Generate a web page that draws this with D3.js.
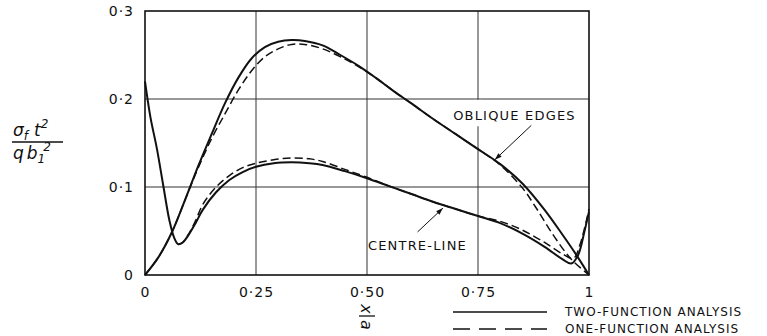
<!DOCTYPE html>
<html>
<head>
<meta charset="utf-8">
<script src="https://cdn.jsdelivr.net/npm/d3@7"></script>
<style>
  body { margin: 0; background: #fff; }
  text { font-family: "DejaVu Sans", sans-serif; fill: #111; }
</style>
</head>
<body>
<script>
// values (x = x/a, y = sigma_f t^2 / q b1^2)
const obliqueTwo = [[0,0],[0.03,0.02],[0.06,0.048],[0.09,0.085],[0.12,0.124],[0.15,0.16],[0.18,0.195],
  [0.21,0.224],[0.24,0.246],[0.27,0.259],[0.3,0.265],[0.33,0.267],[0.36,0.266],[0.4,0.261],[0.44,0.25],
  [0.48,0.238],[0.52,0.224],[0.56,0.209],[0.6,0.195],[0.65,0.177],[0.7,0.16],[0.75,0.143],[0.8,0.126],
  [0.85,0.104],[0.9,0.074],[0.94,0.046],[0.97,0.024],[1,0]];
const obliqueOne = [[0,0],[0.03,0.02],[0.06,0.048],[0.09,0.085],[0.12,0.122],[0.15,0.155],[0.18,0.183],
  [0.21,0.21],[0.24,0.232],[0.27,0.248],[0.3,0.257],[0.33,0.262],[0.36,0.262],[0.4,0.257],[0.44,0.248],
  [0.48,0.237],[0.52,0.224],[0.56,0.209],[0.6,0.195],[0.65,0.177],[0.7,0.16],[0.75,0.143],[0.8,0.125],
  [0.85,0.099],[0.88,0.077],[0.92,0.045],[0.96,0.018],[1,0]];
const centreTwo = [[0,0.22],[0.012,0.18],[0.027,0.143],[0.041,0.102],[0.055,0.062],[0.066,0.042],
  [0.075,0.035],[0.085,0.037],[0.1,0.047],[0.115,0.06],[0.13,0.074],[0.16,0.094],[0.19,0.108],[0.22,0.117],
  [0.25,0.123],[0.29,0.127],[0.33,0.128],[0.37,0.127],[0.4,0.125],[0.45,0.118],[0.5,0.11],[0.55,0.101],
  [0.6,0.092],[0.65,0.083],[0.7,0.075],[0.75,0.067],[0.8,0.059],[0.85,0.047],[0.9,0.032],[0.94,0.018],
  [0.96,0.013],[0.975,0.022],[0.99,0.05],[1,0.072]];
const centreOne = [[0.075,0.035],[0.085,0.037],[0.1,0.048],[0.115,0.063],[0.13,0.08],[0.16,0.1],
  [0.19,0.113],[0.22,0.122],[0.25,0.127],[0.29,0.131],[0.33,0.133],[0.37,0.132],[0.4,0.129],[0.45,0.12],
  [0.5,0.111],[0.55,0.101],[0.6,0.092],[0.65,0.083],[0.7,0.075],[0.75,0.067],[0.8,0.061],[0.85,0.051],
  [0.9,0.037],[0.94,0.024],[0.965,0.019],[0.98,0.035],[1,0.075]];

const xTicks = [0, 0.25, 0.5, 0.75, 1];
const xTickLabels = ["0", "0·25", "0·50", "0·75", "1"];
const yTicks = [0, 0.1, 0.2, 0.3];
const yTickLabels = ["0", "0·1", "0·2", "0·3"];
const legendLabels = ["TWO-FUNCTION ANALYSIS", "ONE-FUNCTION ANALYSIS"];

const W = 767, H = 336;
const x = d3.scaleLinear().domain([0, 1]).range([145, 589]);
const y = d3.scaleLinear().domain([0, 0.3]).range([275, 11]);

const svg = d3.select("body").append("svg")
  .attr("width", W).attr("height", H);

svg.append("defs").append("marker")
  .attr("id", "arr").attr("viewBox", "0 0 10 10")
  .attr("refX", 10).attr("refY", 5)
  .attr("markerWidth", 9).attr("markerHeight", 7)
  .attr("markerUnits", "userSpaceOnUse")
  .attr("orient", "auto")
  .append("path").attr("d", "M0,1.5L10,5L0,8.5Z").attr("fill", "#111");

// grid
const grid = svg.append("g").attr("stroke", "#333").attr("stroke-width", 1);
grid.selectAll(".gx").data(xTicks.slice(1, -1)).join("line")
  .attr("x1", d => x(d)).attr("x2", d => x(d))
  .attr("y1", y(0.3)).attr("y2", y(0));
grid.selectAll(".gy").data(yTicks.slice(1, -1)).join("line")
  .attr("x1", x(0)).attr("x2", x(1))
  .attr("y1", d => y(d)).attr("y2", d => y(d));

svg.append("rect")
  .attr("x", x(0)).attr("y", y(0.3))
  .attr("width", x(1) - x(0)).attr("height", y(0) - y(0.3))
  .attr("fill", "none").attr("stroke", "#111").attr("stroke-width", 1.6);

// axes (labels only)
const xAxis = svg.append("g").attr("transform", `translate(0,${y(0) + 9})`)
  .call(d3.axisBottom(x).tickValues(xTicks).tickSize(0)
    .tickFormat((d, i) => xTickLabels[i]));
const yAxis = svg.append("g").attr("transform", `translate(${x(0) - 8},0)`)
  .call(d3.axisLeft(y).tickValues(yTicks).tickSize(0)
    .tickFormat((d, i) => yTickLabels[i]));
[xAxis, yAxis].forEach(a => {
  a.select(".domain").remove();
  a.selectAll("text").attr("font-family", "DejaVu Sans").attr("font-size", 14)
    .attr("letter-spacing", 1).attr("fill", "#111");
});

// curves
const line = d3.line().x(d => x(d[0])).y(d => y(d[1])).curve(d3.curveCatmullRom.alpha(0.5));
const curves = svg.append("g").attr("fill", "none").attr("stroke", "#111");
curves.append("path").datum(obliqueOne).attr("d", line)
  .attr("stroke-width", 1.5).attr("stroke-dasharray", "8,4");
curves.append("path").datum(centreOne).attr("d", line)
  .attr("stroke-width", 1.5).attr("stroke-dasharray", "8,4");
curves.append("path").datum(obliqueTwo).attr("d", line).attr("stroke-width", 2);
curves.append("path").datum(centreTwo).attr("d", line).attr("stroke-width", 2);

// annotations
const obl = svg.append("g");
obl.append("rect").attr("x", x(0.75) - 4).attr("y", y(0.199)).attr("width", 8)
  .attr("height", y(0.169) - y(0.199)).attr("fill", "#fff");
obl.append("text").attr("x", x(0.694)).attr("y", y(0.182)).attr("dy", "0.36em")
  .attr("font-size", 13).attr("letter-spacing", 1.2).text("OBLIQUE EDGES");
obl.append("line").attr("x1", x(0.87)).attr("y1", y(0.17))
  .attr("x2", x(0.788)).attr("y2", y(0.131))
  .attr("stroke", "#111").attr("stroke-width", 1).attr("marker-end", "url(#arr)");

const cen = svg.append("g");
cen.append("text").attr("x", x(0.502)).attr("y", y(0.034)).attr("dy", "0.36em")
  .attr("font-size", 13).attr("letter-spacing", 1.2).text("CENTRE-LINE");
cen.append("line").attr("x1", x(0.614)).attr("y1", y(0.049))
  .attr("x2", x(0.671)).attr("y2", y(0.076))
  .attr("stroke", "#111").attr("stroke-width", 1).attr("marker-end", "url(#arr)");

// y label: sigma_f t^2 / q b1^2
const yl = svg.append("g").attr("font-family", "DejaVu Serif").attr("font-style", "italic");
const num = yl.append("text").attr("x", 13).attr("y", 136).attr("font-size", 17);
num.append("tspan").text("σ");
num.append("tspan").attr("font-size", 12).attr("dy", 4).text("f");
num.append("tspan").attr("dy", -4).attr("dx", 6).text("t");
num.append("tspan").attr("font-size", 12).attr("dy", -8).text("2");
yl.append("line").attr("x1", 12).attr("x2", 63).attr("y1", 142).attr("y2", 142)
  .attr("stroke", "#111").attr("stroke-width", 1.3);
const den = yl.append("text").attr("x", 13).attr("y", 159).attr("font-size", 17);
den.append("tspan").text("q");
den.append("tspan").attr("dx", 3).text("b");
den.append("tspan").attr("font-size", 12).attr("dy", 4).text("1");
den.append("tspan").attr("font-size", 12).attr("dy", -12).attr("dx", -2).text("2");

// x label: x / a (glyphs turned as in the drawing)
const xl = svg.append("g").attr("transform", `translate(${x(0.5)},0)`)
  .attr("font-family", "DejaVu Serif").attr("font-style", "italic");
xl.append("text").attr("transform", "translate(0,309) rotate(90)")
  .attr("text-anchor", "middle").attr("dy", "0.35em").attr("font-size", 16).text("x");
xl.append("line").attr("x1", -8).attr("x2", 8).attr("y1", 316).attr("y2", 316)
  .attr("stroke", "#111").attr("stroke-width", 1.3);
xl.append("text").attr("transform", "translate(0,325) rotate(90)")
  .attr("text-anchor", "middle").attr("dy", "0.35em").attr("font-size", 16).text("a");

// legend
const leg = svg.append("g").attr("transform", "translate(453,0)");
const legRows = leg.selectAll("g").data(legendLabels).join("g")
  .attr("transform", (d, i) => `translate(0,${312 + i * 17})`);
legRows.append("line").attr("x1", 0).attr("x2", 94)
  .attr("stroke", "#111").attr("stroke-width", 1.5)
  .attr("stroke-dasharray", (d, i) => i ? "17,9" : null);
legRows.append("text").attr("x", 112).attr("dy", "0.36em")
  .attr("font-size", 12).attr("letter-spacing", 1).text(d => d);
</script>
</body>
</html>
